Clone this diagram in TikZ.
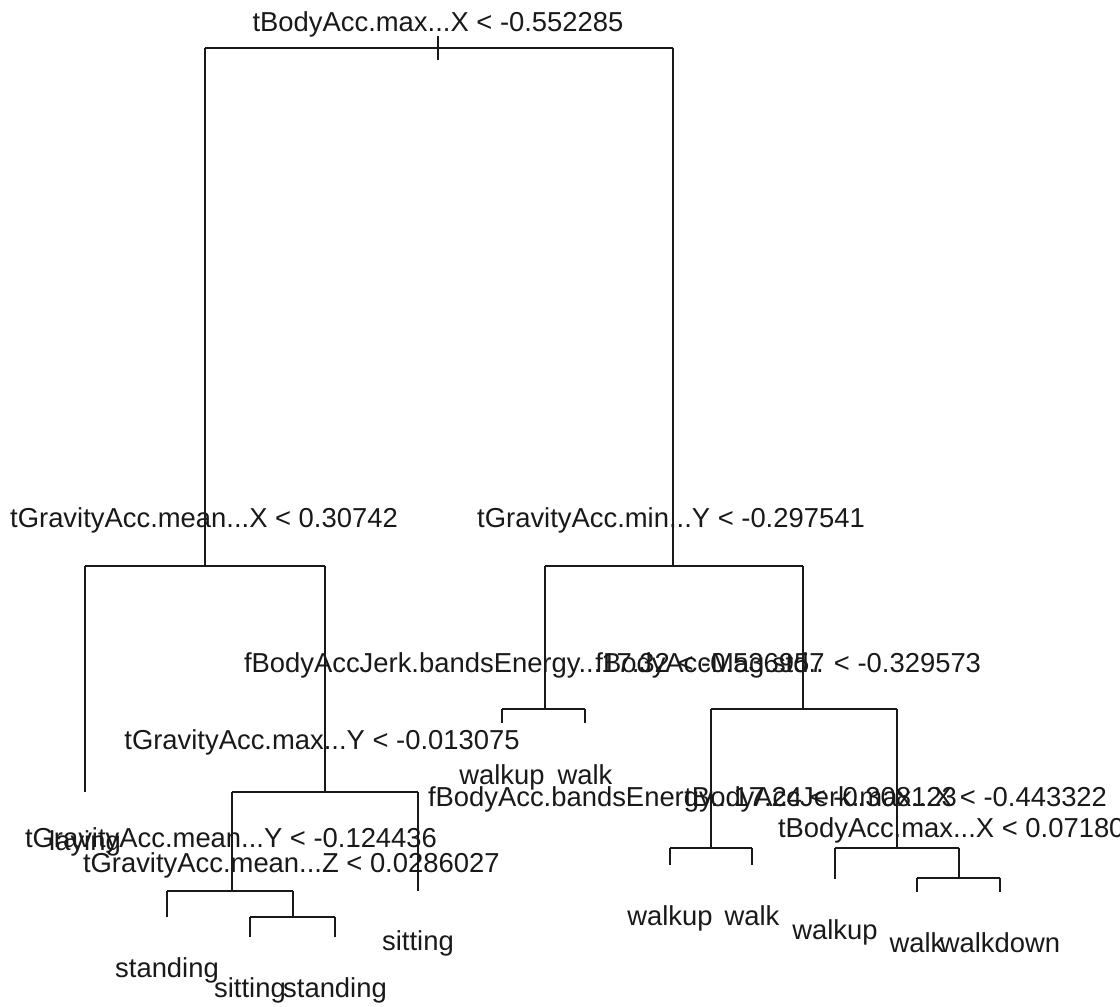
\documentclass[tikz,border=0pt]{standalone}
\usepackage{fontspec}
\setmainfont{Liberation Sans}
\begin{document}
\begin{tikzpicture}[x=1pt,y=-1pt,
  edge/.style={line width=1.5pt, draw=black!90},
  lbl/.style={font=\fontsize{27.4}{30}\selectfont, inner sep=0pt, outer sep=0pt, anchor=base, text=black!90},
  lblw/.style={lbl, anchor=base west},
  lble/.style={lbl, anchor=base east}]
\useasboundingbox (0,0) rectangle (1120,1007);
\clip (0,0) rectangle (1120,1007);
\fill[white] (0,0) rectangle (1120,1007);
% tree node coordinates (x of node, y of its horizontal bar / leaf end)
\coordinate (root) at (438,48);
\coordinate (roottop) at (438,36);
\coordinate (rootbot) at (438,60);
\coordinate (A) at (205,566);
\coordinate (B) at (673,566);
\coordinate (lay) at (85,792);
\coordinate (Cg) at (325,792);
\coordinate (Cw) at (545,709);
\coordinate (D) at (803,709);
\coordinate (c1) at (502,723);
\coordinate (c2) at (585,723);
\coordinate (H) at (232,891);
\coordinate (sit1) at (418,891);
\coordinate (st1) at (167,917);
\coordinate (I) at (293,917);
\coordinate (si2) at (250,937);
\coordinate (st2) at (335,937);
\coordinate (E) at (711,848);
\coordinate (F) at (897,848);
\coordinate (e1) at (670,865);
\coordinate (e2) at (752,865);
\coordinate (f1) at (835,879);
\coordinate (G) at (959,878);
\coordinate (g1) at (917,892);
\coordinate (g2) at (1000,892);
% root
\draw[edge] (roottop) -- (rootbot);
\draw[edge] (A |- root) -- (B |- root);
\draw[edge] (A |- root) -- (A);
\draw[edge] (B |- root) -- (B);
% A
\draw[edge] (lay |- A) -- (Cg |- A);
\draw[edge] (lay |- A) -- (lay);
\draw[edge] (Cg |- A) -- (Cg);
% B
\draw[edge] (Cw |- B) -- (D |- B);
\draw[edge] (Cw |- B) -- (Cw);
\draw[edge] (D |- B) -- (D);
% Cw
\draw[edge] (c1 |- Cw) -- (c2 |- Cw);
\draw[edge] (c1 |- Cw) -- (c1);
\draw[edge] (c2 |- Cw) -- (c2);
% Cg
\draw[edge] (H |- Cg) -- (sit1 |- Cg);
\draw[edge] (H |- Cg) -- (H);
\draw[edge] (sit1 |- Cg) -- (sit1);
% H
\draw[edge] (st1 |- H) -- (I |- H);
\draw[edge] (st1 |- H) -- (st1);
\draw[edge] (I |- H) -- (I);
% I
\draw[edge] (si2 |- I) -- (st2 |- I);
\draw[edge] (si2 |- I) -- (si2);
\draw[edge] (st2 |- I) -- (st2);
% D
\draw[edge] (E |- D) -- (F |- D);
\draw[edge] (E |- D) -- (E);
\draw[edge] (F |- D) -- (F);
% E
\draw[edge] (e1 |- E) -- (e2 |- E);
\draw[edge] (e1 |- E) -- (e1);
\draw[edge] (e2 |- E) -- (e2);
% F
\draw[edge] (f1 |- F) -- (G |- F);
\draw[edge] (f1 |- F) -- (f1);
\draw[edge] (G |- F) -- (G);
% G
\draw[edge] (g1 |- G) -- (g2 |- G);
\draw[edge] (g1 |- G) -- (g1);
\draw[edge] (g2 |- G) -- (g2);
% split labels
\node[lbl] (Lroot) at (438,31) {tBodyAcc.max...X < -0.552285};
\node[lbl] (LA) at (204,527) {tGravityAcc.mean...X < 0.30742};
\node[lbl] (LB) at (671,527) {tGravityAcc.min...Y < -0.297541};
\node[lblw] (LCw) at (244,672) {fBodyAccJerk.bandsEnergy...17.32 < -0.536957};
\node[lble] (LD) at (981,672) {fBodyAccMag.std.. < -0.329573};
\node[lbl] (LCg) at (322,749) {tGravityAcc.max...Y < -0.013075};
\node[lblw] (LE) at (428,806) {fBodyAcc.bandsEnergy...17.24 < -0.308123};
\node[lble] (LF) at (1107,806) {tBodyAccJerk.max...X < -0.443322};
\node[lblw] (LG) at (778,837) {tBodyAcc.max...X < 0.0718036};
\node[lblw] (LH) at (25,847) {tGravityAcc.mean...Y < -0.124436};
\node[lblw] (LI) at (83,872) {tGravityAcc.mean...Z < 0.0286027};
% leaf labels
\node[lbl] (Llay) at (85,850) {laying};
\node[lbl] (Lc1) at (502,784) {walkup};
\node[lbl] (Lc2) at (585,784) {walk};
\node[lbl] (Le1) at (670,925) {walkup};
\node[lbl] (Le2) at (752,925) {walk};
\node[lbl] (Lf1) at (835,939) {walkup};
\node[lbl] (Lg1) at (917,952) {walk};
\node[lbl] (Lg2) at (1000,952) {walkdown};
\node[lbl] (Lst1) at (167,977) {standing};
\node[lbl] (Lsi2) at (250,997) {sitting};
\node[lbl] (Lst2) at (335,997) {standing};
\node[lbl] (Lsit1) at (418,950) {sitting};
\end{tikzpicture}
\end{document}
